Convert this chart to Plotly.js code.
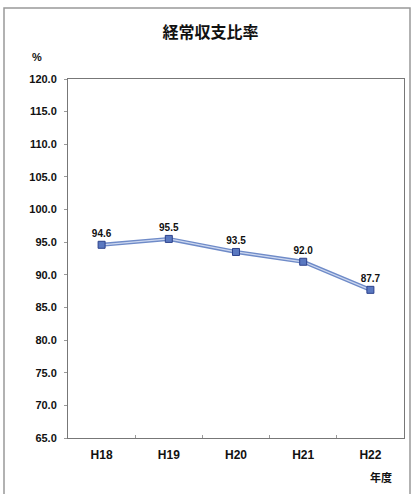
<!DOCTYPE html>
<html><head><meta charset="utf-8">
<script src="https://cdn.plot.ly/plotly-3.0.1.min.js"></script>
<style>html,body{margin:0;padding:0;background:#fff;}#c{width:413px;height:494px;}</style>
</head><body><div id="c"></div>
<script>
const categories = ["H18", "H19", "H20", "H21", "H22"];
const ratio = [94.6, 95.5, 93.5, 92.0, 87.7];
const yTicks = [65,70,75,80,85,90,95,100,105,110,115,120];

const W = 413, H = 494, mL = 68, mR = 9, mT = 79, mB = 56;
const pw = W - mL - mR, ph = H - mT - mB;
const px = x => (x - mL) / pw;
const py = y => (H - mB - y) / ph;

const font = "Liberation Sans, Arial, sans-serif";
const cjk = "Noto Sans CJK JP, sans-serif";

Plotly.newPlot("c", [{
  x: categories, y: ratio, type: "scatter", mode: "lines",
  line: {color: "#6f8bc8", width: 4}, hoverinfo: "skip"
}, {
  x: categories, y: ratio, type: "scatter", mode: "lines+markers+text",
  text: ratio.map(v => v.toFixed(1)), textposition: "top center",
  textfont: {family: font, size: 10, color: "#111", weight: "bold"},
  line: {color: "#cdd8f0", width: 1.3},
  marker: {symbol: "square", size: 7, color: "#5a78c0", line: {color: "#2c418c", width: 1}},
  cliponaxis: false, hoverinfo: "skip"
}], {
  width: W, height: H, margin: {l: mL, r: mR, t: mT, b: mB},
  paper_bgcolor: "#fff", plot_bgcolor: "#fff", showlegend: false,
  title: {text: "経常収支比率", font: {family: cjk, size: 16, color: "#111", weight: "bold"}, x: 0.51, xanchor: "center", y: 1 - 32 / H, yanchor: "middle"},
  xaxis: {type: "category", range: [-0.5, 4.5], showgrid: false, zeroline: false,
    showline: true, linecolor: "#777", linewidth: 1, mirror: true,
    ticks: "inside", ticklen: 3, tickcolor: "#999", tickson: "boundaries", ticklabelstandoff: 6,
    tickfont: {family: font, size: 12, color: "#111", weight: "bold"}},
  yaxis: {range: [65, 120], tickvals: yTicks, ticktext: yTicks.map(v => v.toFixed(1)),
    showgrid: false, zeroline: false, showline: true, linecolor: "#777", linewidth: 1, mirror: true,
    ticks: "outside", ticklen: 3, tickcolor: "#999", ticklabelstandoff: 5,
    tickfont: {family: font, size: 11, color: "#111", weight: "bold"}},
  annotations: [
    {text: "%", xref: "paper", yref: "paper", x: px(30), y: py(57), yanchor: "middle", showarrow: false,
     font: {family: font, size: 11, color: "#111", weight: "bold"}},
    {text: "年度", xref: "paper", yref: "paper", x: px(394), y: py(477), yanchor: "middle", showarrow: false,
     font: {family: cjk, size: 11, color: "#111", weight: "bold"}}
  ],
  shapes: [
    {type: "rect", xref: "paper", yref: "paper", x0: px(4), x1: px(410), y0: py(510), y1: py(8),
     line: {color: "#999", width: 1.5}, fillcolor: "rgba(0,0,0,0)", layer: "below"}
  ]
}, {displayModeBar: false, staticPlot: true});
</script></body></html>
